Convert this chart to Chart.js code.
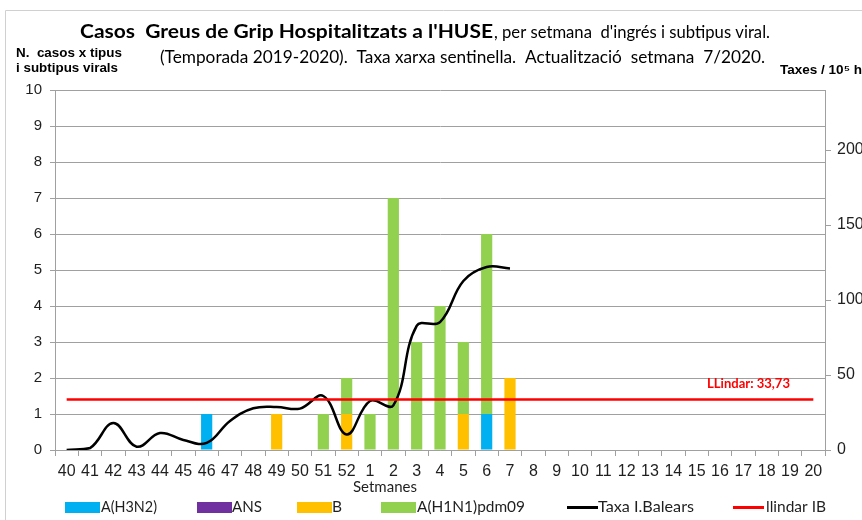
<!DOCTYPE html>
<html>
<head>
<meta charset="utf-8">
<script src="https://cdn.jsdelivr.net/npm/chart.js@4"></script>
<style>
  body { margin: 0; overflow: hidden; background: #fff; }
  #wrap { width: 880px; height: 520px; }
</style>
</head>
<body>
<div id="wrap"><canvas id="c" width="880" height="520"></canvas></div>
<script>
const WEEKS = ['40','41','42','43','44','45','46','47','48','49','50','51','52',
  '1','2','3','4','5','6','7','8','9','10','11','12','13','14','15','16','17','18','19','20'];
// cases per week and virus type (left axis)
const H3N2  = [0,0,0,0,0,0,1,0,0,0,0,0,0, 0,0,0,0,0,1,0,0,0,0,0,0,0,0,0,0,0,0,0,0];
const ANS   = [0,0,0,0,0,0,0,0,0,0,0,0,0, 0,0,0,0,0,0,0,0,0,0,0,0,0,0,0,0,0,0,0,0];
const B     = [0,0,0,0,0,0,0,0,0,1,0,0,1, 0,0,0,0,1,0,2,0,0,0,0,0,0,0,0,0,0,0,0,0];
const H1N1  = [0,0,0,0,0,0,0,0,0,0,0,1,1, 1,7,3,4,2,5,0,0,0,0,0,0,0,0,0,0,0,0,0,0];
// rate per 10^5 inhabitants (right axis)
const TAXA  = [0,1.3,18,2.2,11.3,6.7,4.7,19.4,27.8,28.7,27.6,36,10.4,
  32.7,29.8,82.7,85.3,112.7,122,121];
const LLINDAR = 33.73;
const LEFT_TICKS = [0,1,2,3,4,5,6,7,8,9,10];
const RIGHT_TICKS = [0,50,100,150,200];

const GRID = '#a0a0a0';
const TXT = '#1f1f1f';

function fitText(ctx, text, x, y, font, w, color, align) {
  ctx.save();
  ctx.font = font;
  ctx.fillStyle = color;
  ctx.textBaseline = 'middle';
  ctx.textAlign = 'left';
  const m = ctx.measureText(text).width;
  const sx = w / m;
  let x0 = x;
  if (align === 'center') x0 = x - w / 2;
  ctx.translate(x0, y);
  ctx.scale(sx, 1);
  ctx.fillText(text, 0, 0);
  ctx.restore();
}

const extras = {
  id: 'extras',
  afterDraw(chart) {
    const ctx = chart.ctx;
    // chart area frame from the spreadsheet
    ctx.save();
    ctx.strokeStyle = '#d0d0d0';
    ctx.lineWidth = 1;
    ctx.beginPath();
    ctx.moveTo(5.5, 530); ctx.lineTo(5.5, 10.5); ctx.lineTo(900, 10.5);
    ctx.stroke();
    ctx.restore();

    fitText(ctx, "Casos  Greus de Grip Hospitalitzats a l'HUSE", 80, 32, 'bold 18px Lato', 413, '#000');
    fitText(ctx, ", per setmana  d'ingrés i subtipus viral.", 494, 32, '18px Lato', 276, '#000');
    fitText(ctx, '(Temporada 2019-2020).  Taxa xarxa sentinella.  Actualització  setmana  7/2020.', 160, 57, '18px Lato', 605, '#000');

    fitText(ctx, 'N.  casos x tipus', 16, 53, 'bold 13px "Liberation Sans"', 106, '#000');
    fitText(ctx, 'i subtipus virals', 16, 68, 'bold 13px "Liberation Sans"', 102, '#000');
    fitText(ctx, 'Taxes / 10\u2075 h', 780, 71, 'bold 12px "Liberation Sans"', 82, '#000');

    fitText(ctx, 'LLindar: 33,73', 707, 383, 'bold 14px Lato', 83, '#ff0000');
    fitText(ctx, 'Setmanes', 385, 487, '15px Lato', 64, TXT, 'center');

    // legend
    const items = [
      { t: 'rect', c: '#00b0f0', x: 65, tx: 101, w: 56, label: 'A(H3N2)' },
      { t: 'rect', c: '#7030a0', x: 197, tx: 232, w: 30, label: 'ANS' },
      { t: 'rect', c: '#ffc000', x: 297, tx: 332, w: 10, label: 'B' },
      { t: 'rect', c: '#92d050', x: 381, tx: 417, w: 108, label: 'A(H1N1)pdm09' },
      { t: 'line', c: '#000000', x: 567, tx: 598, w: 96, label: 'Taxa I.Balears' },
      { t: 'line', c: '#ff0000', x: 733, tx: 766, w: 60, label: 'llindar IB' }
    ];
    items.forEach(it => {
      ctx.save();
      ctx.fillStyle = it.c;
      ctx.strokeStyle = it.c;
      if (it.t === 'rect') {
        ctx.fillRect(it.x, 502, 35, 11);
      } else {
        ctx.lineWidth = 3;
        ctx.beginPath();
        ctx.moveTo(it.x, 507.5); ctx.lineTo(it.x + 31, 507.5);
        ctx.stroke();
      }
      ctx.restore();
      fitText(ctx, it.label, it.tx, 507, '15px Lato', it.w, TXT);
    });
  }
};

new Chart(document.getElementById('c'), {
  type: 'bar',
  data: {
    labels: WEEKS,
    datasets: [
      { label: 'Taxa I.Balears', type: 'line', data: TAXA, yAxisID: 'y2', borderColor: '#000', borderWidth: 2.5,
        pointRadius: 0, tension: 0.4, order: 1 },
      { label: 'llindar IB', type: 'line', data: WEEKS.map(() => LLINDAR), yAxisID: 'y2', borderColor: '#ff0000',
        borderWidth: 2.5, pointRadius: 0, tension: 0, order: 0 },
      { label: 'A(H3N2)', data: H3N2, backgroundColor: '#00b0f0', order: 2 },
      { label: 'ANS', data: ANS, backgroundColor: '#7030a0', order: 2 },
      { label: 'B', data: B, backgroundColor: '#ffc000', order: 2 },
      { label: 'A(H1N1)pdm09', data: H1N1, backgroundColor: '#92d050', order: 2 }
    ]
  },
  options: {
    responsive: false,
    animation: false,
    layout: { padding: { top: 90, left: 0, right: 0, bottom: 0 } },
    datasets: { bar: { barPercentage: 0.48, categoryPercentage: 1 } },
    plugins: { legend: { display: false }, tooltip: { enabled: false }, title: { display: false } },
    scales: {
      x: {
        stacked: true,
        afterFit: s => { s.height = 70; },
        grid: { offset: true, drawOnChartArea: false, tickLength: 6, color: GRID },
        border: { color: GRID },
        ticks: { color: TXT, padding: 6, maxRotation: 0, autoSkip: false, font: { family: 'Liberation Sans', size: 16 } }
      },
      y: {
        stacked: true,
        min: 0, max: 10,
        afterFit: s => { s.width = 55; },
        afterBuildTicks: s => { s.ticks = LEFT_TICKS.map(v => ({ value: v })); },
        grid: { color: GRID, tickLength: 5 },
        border: { color: GRID },
        ticks: { color: TXT, padding: 8, font: { family: 'Liberation Sans', size: 15 } }
      },
      y2: {
        position: 'right',
        min: 0, max: 240,
        afterFit: s => { s.width = 55; },
        afterBuildTicks: s => { s.ticks = RIGHT_TICKS.map(v => ({ value: v })); },
        grid: { drawOnChartArea: false, color: GRID, tickLength: 6 },
        border: { color: GRID },
        ticks: { color: TXT, padding: 6, font: { family: 'Liberation Sans', size: 16 } }
      }
    }
  },
  plugins: [extras]
});
</script>
</body>
</html>
